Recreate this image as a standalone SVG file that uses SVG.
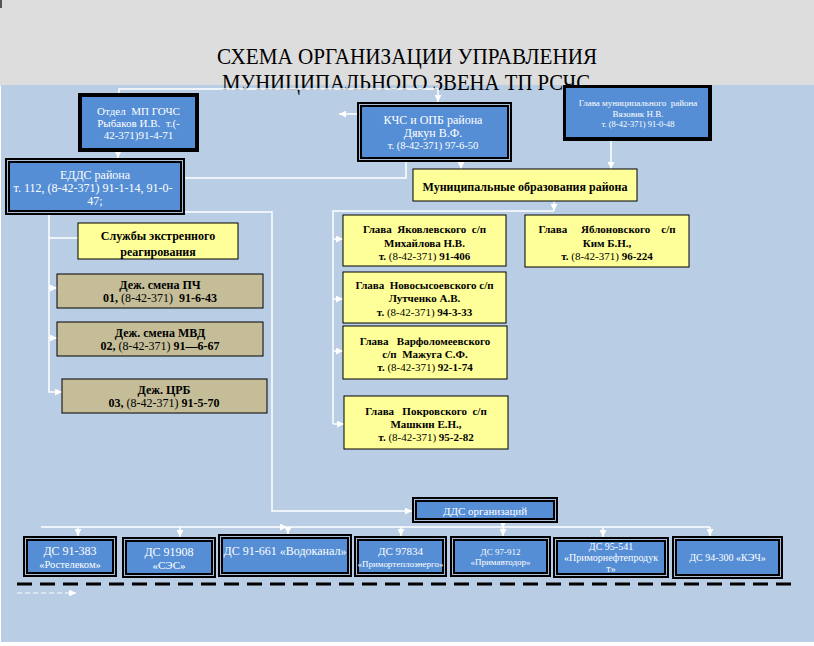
<svg xmlns="http://www.w3.org/2000/svg" width="814" height="646" viewBox="0 0 814 646">
<style>
.wl{stroke:#fff;stroke-width:1.5;fill:none}
.blk{fill:#000}
.blue{fill:#558ed5}
.thin{fill:none;stroke:#a9bcd8;stroke-width:1}
.yel{fill:#ffff99;stroke:#000;stroke-width:1}
.tan{fill:#c4bd97;stroke:#000;stroke-width:1}
text{font-family:"Liberation Serif","Times New Roman",serif;text-anchor:middle;white-space:pre}
.wt{fill:#fff}
.bt{fill:#000;font-weight:bold}
.nb{font-weight:normal}
</style>
<defs>
<marker id="ah" viewBox="0 0 10 10" refX="10" refY="5" markerWidth="7" markerHeight="7" markerUnits="userSpaceOnUse" orient="auto"><path d="M0,0 L10,5 L0,10 z" fill="#fff"/></marker>
</defs>
<rect x="0" y="0" width="814" height="646" fill="#fff"/>
<rect x="0" y="0" width="814" height="86" fill="#dddddd"/>
<rect x="1" y="85" width="813" height="557" fill="#b9cde5"/>
<rect x="0" y="0" width="2" height="8" fill="#555"/>
<g id="title">
<text x="407" y="64" font-size="24" textLength="380" lengthAdjust="spacingAndGlyphs">СХЕМА ОРГАНИЗАЦИИ УПРАВЛЕНИЯ</text>
<text x="406" y="90" font-size="24" textLength="368" lengthAdjust="spacingAndGlyphs">МУНИЦИПАЛЬНОГО ЗВЕНА ТП РСЧС</text>
</g>
<g id="connectors">
<path class="wl" d="M119,93 V89 H438 V102" marker-end="url(#ah)"/>
<path class="wl" d="M118,152 V158" marker-end="url(#ah)"/>
<path class="wl" d="M357,114 H339" marker-end="url(#ah)"/>
<path class="wl" d="M406,162 V178 H185"/>
<path class="wl" d="M461,162 V169" marker-end="url(#ah)"/>
<path class="wl" d="M611,141 V169" marker-end="url(#ah)"/>
<path class="wl" d="M554,201 V211" marker-end="url(#ah)"/>
<path class="wl" d="M554,211 H333 V424"/>
<path class="wl" d="M333,239 H343" marker-end="url(#ah)"/>
<path class="wl" d="M333,299 H343" marker-end="url(#ah)"/>
<path class="wl" d="M333,351 H343" marker-end="url(#ah)"/>
<path class="wl" d="M333,424 H344" marker-end="url(#ah)"/>
<path class="wl" d="M49,215 V392 H62" marker-end="url(#ah)"/>
<path class="wl" d="M49,238 H78"/>
<path class="wl" d="M49,288 H57" marker-end="url(#ah)"/>
<path class="wl" d="M49,338 H57" marker-end="url(#ah)"/>
<path class="wl" d="M185,212 H272 V511 H412" marker-end="url(#ah)"/>
<path class="wl" d="M503,523 V528" marker-end="url(#ah)"/>
<path class="wl" d="M41,527 H287" marker-end="url(#ah)"/>
<path class="wl" d="M287,527 H710"/>
<path class="wl" d="M78,527 V536" marker-end="url(#ah)"/>
<path class="wl" d="M180,527 V537" marker-end="url(#ah)"/>
<path class="wl" d="M288,527 V534" marker-end="url(#ah)"/>
<path class="wl" d="M401,527 V536" marker-end="url(#ah)"/>
<path class="wl" d="M503,527 V536" marker-end="url(#ah)"/>
<path class="wl" d="M603,527 V537" marker-end="url(#ah)"/>
<path class="wl" d="M710,527 V536" marker-end="url(#ah)"/>
<path d="M17,584 H798" stroke="#000" stroke-width="3" stroke-dasharray="15 8" fill="none"/>
<path d="M17,593 H76" stroke="#fff" stroke-width="1" stroke-dasharray="5 3" fill="none" marker-end="url(#ah)"/>
</g>
<g id="otdel">
<rect class="blk" x="78" y="93" width="121" height="59"/>
<rect class="blue" x="82" y="97" width="113" height="51"/>
<text class="wt" x="138.5" y="115" font-size="11">Отдел  МП ГОЧС</text>
<text class="wt" x="138.5" y="127" font-size="11">Рыбаков И.В.  т.(-</text>
<text class="wt" x="138.5" y="139" font-size="11">42-371)91-4-71</text>
</g>
<g id="edds">
<rect class="blk" x="5" y="158" width="180" height="57"/>
<rect class="thin" x="7.5" y="160.5" width="175" height="52"/>
<rect class="blue" x="10" y="163" width="170" height="47"/>
<text class="wt" x="95" y="179" font-size="12">ЕДДС района</text>
<text class="wt" x="93" y="192" font-size="12">т. 112, (8-42-371) 91-1-14, 91-0-</text>
<text class="wt" x="95" y="205" font-size="12">47;</text>
</g>
<g id="kchs">
<rect class="blk" x="357" y="102" width="155" height="60"/>
<rect class="thin" x="359.5" y="104.5" width="150" height="55"/>
<rect class="blue" x="362" y="107" width="145" height="50"/>
<text class="wt" x="433" y="124" font-size="12">КЧС и ОПБ района</text>
<text class="wt" x="433" y="137" font-size="12">Дякун В.Ф.</text>
<text class="wt" x="433" y="149" font-size="10.5">т. (8-42-371) 97-6-50</text>
</g>
<g id="glava-rayona">
<rect class="blk" x="563" y="85" width="149" height="56"/>
<rect class="blue" x="566" y="88" width="142" height="49"/>
<text class="wt" x="638" y="106" font-size="9">Глава муниципального  района</text>
<text class="wt" x="638" y="117" font-size="9">Вязовик Н.В.</text>
<text class="wt" x="638" y="127" font-size="8.5">т. (8-42-371) 91-0-48</text>
</g>
<g id="mo">
<rect class="yel" x="413" y="169" width="224" height="32"/>
<text class="bt" x="525" y="191" font-size="12">Муниципальные образования района</text>
</g>
<g id="sluzhby">
<rect class="yel" x="78" y="223" width="160" height="36"/>
<text class="bt" x="158" y="240" font-size="12">Службы экстренного</text>
<text class="bt" x="158" y="256" font-size="12">реагирования</text>
</g>
<g id="pch">
<rect class="tan" x="57" y="274" width="206" height="34"/>
<text class="bt" x="160" y="289" font-size="12">Деж. смена ПЧ</text>
<text class="bt" x="160" y="302" font-size="12">01, <tspan class="nb">(8-42-371)</tspan>  91-6-43</text>
</g>
<g id="mvd">
<rect class="tan" x="57" y="322" width="206" height="34"/>
<text class="bt" x="160" y="337" font-size="12">Деж. смена МВД</text>
<text class="bt" x="160" y="350" font-size="12">02, <tspan class="nb">(8-42-371)</tspan> 91—6-67</text>
</g>
<g id="crb">
<rect class="tan" x="62" y="379" width="205" height="34"/>
<text class="bt" x="164" y="394" font-size="12">Деж. ЦРБ</text>
<text class="bt" x="164" y="407" font-size="12">03, <tspan class="nb">(8-42-371)</tspan> 91-5-70</text>
</g>
<g id="yakovlevka">
<rect class="yel" x="343" y="215" width="163" height="51"/>
<text class="bt" x="424.5" y="233" font-size="11">Глава  Яковлевского  с/п</text>
<text class="bt" x="424.5" y="247" font-size="11">Михайлова Н.В.</text>
<text class="bt" x="424.5" y="260" font-size="11">т. <tspan class="nb">(8-42-371)</tspan> 91-406</text>
</g>
<g id="yablonovka">
<rect class="yel" x="525" y="215" width="164" height="52"/>
<text class="bt" x="607" y="233" font-size="11">Глава     Яблоновского    с/п</text>
<text class="bt" x="607" y="247" font-size="11">Ким Б.Н.,</text>
<text class="bt" x="607" y="260" font-size="11">т. <tspan class="nb">(8-42-371)</tspan> 96-224</text>
</g>
<g id="novosysoevka">
<rect class="yel" x="343" y="272" width="163" height="51"/>
<text class="bt" x="424.5" y="289" font-size="11">Глава  Новосысоевского с/п</text>
<text class="bt" x="424.5" y="302" font-size="11">Лутченко А.В.</text>
<text class="bt" x="424.5" y="316" font-size="11">т. <tspan class="nb">(8-42-371)</tspan> 94-3-33</text>
</g>
<g id="varfolomeevka">
<rect class="yel" x="343" y="326" width="164" height="53"/>
<text class="bt" x="425" y="345" font-size="11">Глава   Варфоломеевского</text>
<text class="bt" x="425" y="358" font-size="11">с/п  Мажуга С.Ф.</text>
<text class="bt" x="425" y="371" font-size="11">т. <tspan class="nb">(8-42-371)</tspan> 92-1-74</text>
</g>
<g id="pokrovka">
<rect class="yel" x="344" y="396" width="164" height="53"/>
<text class="bt" x="426" y="415" font-size="11">Глава   Покровского  с/п</text>
<text class="bt" x="426" y="428" font-size="11">Машкин Е.Н.,</text>
<text class="bt" x="426" y="441" font-size="11">т. <tspan class="nb">(8-42-371)</tspan> 95-2-82</text>
</g>
<g id="dds">
<rect class="blk" x="412" y="497" width="146" height="26"/>
<rect class="thin" x="414.5" y="499.5" width="141" height="21"/>
<rect class="blue" x="417" y="502" width="136" height="16"/>
<text class="wt" x="485" y="515" font-size="11">ДДС организаций</text>
</g>
<g id="ds-rostelecom">
<rect class="blk" x="23" y="536" width="94" height="41"/>
<rect class="thin" x="25.5" y="538.5" width="89" height="36"/>
<rect class="blue" x="28" y="541" width="84" height="31"/>
<text class="wt" x="70" y="555" font-size="12">ДС 91-383</text>
<text class="wt" x="70" y="568" font-size="10.5">«Ростелеком»</text>
</g>
<g id="ds-ses">
<rect class="blk" x="122" y="537" width="94" height="41"/>
<rect class="thin" x="124.5" y="539.5" width="89" height="36"/>
<rect class="blue" x="127" y="542" width="84" height="31"/>
<text class="wt" x="169" y="556" font-size="12">ДС 91908</text>
<text class="wt" x="169" y="569" font-size="11">«СЭС»</text>
</g>
<g id="ds-vodokanal">
<rect class="blk" x="218" y="534" width="134" height="43"/>
<rect class="thin" x="220.5" y="536.5" width="129" height="38"/>
<rect class="blue" x="223" y="539" width="124" height="33"/>
<text class="wt" x="285" y="555" font-size="12">ДС 91-661 «Водоканал»</text>
</g>
<g id="ds-teploenergo">
<rect class="blk" x="354" y="536" width="93" height="41"/>
<rect class="thin" x="356.5" y="538.5" width="88" height="36"/>
<rect class="blue" x="359" y="541" width="83" height="31"/>
<text class="wt" x="400.5" y="555" font-size="11">ДС 97834</text>
<text class="wt" x="400.5" y="567" font-size="9" textLength="86" lengthAdjust="spacingAndGlyphs">«Примортеплоэнерго»</text>
</g>
<g id="ds-avtodor">
<rect class="blk" x="450" y="536" width="101" height="41"/>
<rect class="thin" x="452.5" y="538.5" width="96" height="36"/>
<rect class="blue" x="455" y="541" width="91" height="31"/>
<text class="wt" x="500.5" y="555" font-size="9">ДС 97-912</text>
<text class="wt" x="500.5" y="565" font-size="9">«Примавтодор»</text>
</g>
<g id="ds-nefteprodukt">
<rect class="blk" x="553" y="537" width="116" height="41"/>
<rect class="thin" x="555.5" y="539.5" width="111" height="36"/>
<rect class="blue" x="558" y="542" width="106" height="31"/>
<text class="wt" x="611" y="550" font-size="10">ДС 95-541</text>
<text class="wt" x="611" y="561" font-size="10">«Приморнефтепродук</text>
<text class="wt" x="611" y="572" font-size="10">т»</text>
</g>
<g id="ds-kech">
<rect class="blk" x="672" y="536" width="111" height="43"/>
<rect class="thin" x="674.5" y="538.5" width="106" height="38"/>
<rect class="blue" x="677" y="541" width="101" height="33"/>
<text class="wt" x="727.5" y="561" font-size="10">ДС 94-300 «КЭЧ»</text>
</g>
</svg>
